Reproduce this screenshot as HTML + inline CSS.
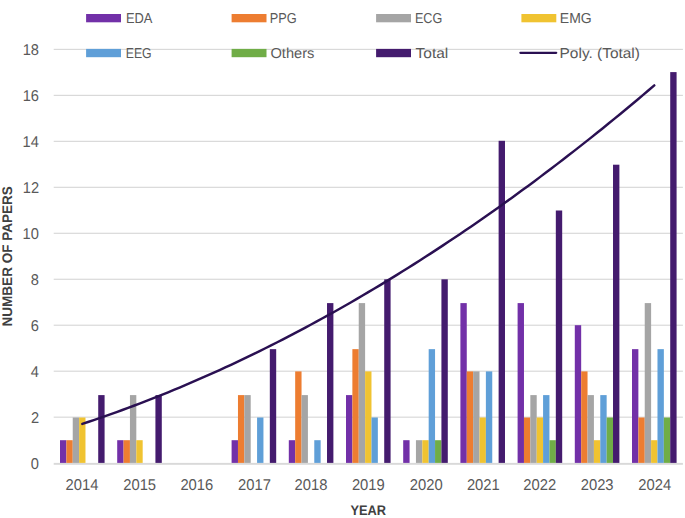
<!DOCTYPE html><html><head><meta charset="utf-8"><style>html,body{margin:0;padding:0;background:#fff;width:685px;height:518px;overflow:hidden}svg{display:block}text{font-family:"Liberation Sans",sans-serif;text-rendering:geometricPrecision}</style></head><body>
<svg width="685" height="518" viewBox="0 0 685 518">
<rect width="685" height="518" fill="#fff"/>
<rect x="53.70" y="416.58" width="629.20" height="1.2" fill="#D9D9D9"/>
<rect x="53.70" y="370.61" width="629.20" height="1.2" fill="#D9D9D9"/>
<rect x="53.70" y="324.64" width="629.20" height="1.2" fill="#D9D9D9"/>
<rect x="53.70" y="278.67" width="629.20" height="1.2" fill="#D9D9D9"/>
<rect x="53.70" y="232.70" width="629.20" height="1.2" fill="#D9D9D9"/>
<rect x="53.70" y="186.73" width="629.20" height="1.2" fill="#D9D9D9"/>
<rect x="53.70" y="140.76" width="629.20" height="1.2" fill="#D9D9D9"/>
<rect x="53.70" y="94.79" width="629.20" height="1.2" fill="#D9D9D9"/>
<rect x="53.70" y="48.82" width="629.20" height="1.2" fill="#D9D9D9"/>
<rect x="53.70" y="462.9" width="629.20" height="1.9" fill="#D9D9D9"/>
<rect x="86.1" y="14.0" width="34.9" height="8.3" fill="#7230A8"/>
<text x="125.99" y="23.20" font-size="14.4" fill="#595959" textLength="26.45" lengthAdjust="spacingAndGlyphs">EDA</text>
<rect x="231.6" y="14.0" width="34.9" height="8.3" fill="#ED7D31"/>
<text x="269.70" y="23.20" font-size="14.4" fill="#595959" textLength="27.01" lengthAdjust="spacingAndGlyphs">PPG</text>
<rect x="376.1" y="14.0" width="34.9" height="8.3" fill="#A5A5A5"/>
<text x="414.91" y="23.20" font-size="14.4" fill="#595959" textLength="27.28" lengthAdjust="spacingAndGlyphs">ECG</text>
<rect x="521.4" y="14.0" width="34.9" height="8.3" fill="#F0C331"/>
<text x="559.80" y="23.20" font-size="14.4" fill="#595959" textLength="31.89" lengthAdjust="spacingAndGlyphs">EMG</text>
<rect x="86.1" y="48.9" width="34.9" height="8.3" fill="#5F9FD8"/>
<text x="125.74" y="58.10" font-size="14.4" fill="#595959" textLength="25.93" lengthAdjust="spacingAndGlyphs">EEG</text>
<rect x="231.6" y="48.9" width="34.9" height="8.3" fill="#70AD47"/>
<text x="270.47" y="58.10" font-size="14.4" fill="#595959" textLength="43.95" lengthAdjust="spacingAndGlyphs">Others</text>
<rect x="376.1" y="48.9" width="34.9" height="8.3" fill="#441B6E"/>
<text x="415.57" y="58.10" font-size="14.4" fill="#595959" textLength="32.74" lengthAdjust="spacingAndGlyphs">Total</text>
<line x1="520.4" x2="556.2" y1="52.8" y2="52.8" stroke="#2A1052" stroke-width="2.3" stroke-linecap="round"/>
<text x="559.59" y="58.10" font-size="14.4" fill="#595959" textLength="80.36" lengthAdjust="spacingAndGlyphs">Poly. (Total)</text>
<rect x="60.00" y="440.20" width="6.37" height="22.70" fill="#7230A8"/>
<rect x="66.37" y="440.20" width="6.37" height="22.70" fill="#ED7D31"/>
<rect x="72.74" y="417.50" width="6.37" height="45.40" fill="#A5A5A5"/>
<rect x="79.11" y="417.50" width="6.37" height="45.40" fill="#F0C331"/>
<rect x="98.22" y="395.10" width="6.37" height="67.80" fill="#441B6E"/>
<rect x="117.20" y="440.20" width="6.37" height="22.70" fill="#7230A8"/>
<rect x="123.57" y="440.20" width="6.37" height="22.70" fill="#ED7D31"/>
<rect x="129.94" y="395.10" width="6.37" height="67.80" fill="#A5A5A5"/>
<rect x="136.31" y="440.20" width="6.37" height="22.70" fill="#F0C331"/>
<rect x="155.42" y="395.10" width="6.37" height="67.80" fill="#441B6E"/>
<rect x="231.60" y="440.20" width="6.37" height="22.70" fill="#7230A8"/>
<rect x="237.97" y="395.10" width="6.37" height="67.80" fill="#ED7D31"/>
<rect x="244.34" y="395.10" width="6.37" height="67.80" fill="#A5A5A5"/>
<rect x="257.08" y="417.50" width="6.37" height="45.40" fill="#5F9FD8"/>
<rect x="269.82" y="349.15" width="6.37" height="113.75" fill="#441B6E"/>
<rect x="288.80" y="440.20" width="6.37" height="22.70" fill="#7230A8"/>
<rect x="295.17" y="371.40" width="6.37" height="91.50" fill="#ED7D31"/>
<rect x="301.54" y="395.10" width="6.37" height="67.80" fill="#A5A5A5"/>
<rect x="314.28" y="440.20" width="6.37" height="22.70" fill="#5F9FD8"/>
<rect x="327.02" y="303.10" width="6.37" height="159.80" fill="#441B6E"/>
<rect x="346.00" y="395.10" width="6.37" height="67.80" fill="#7230A8"/>
<rect x="352.37" y="349.15" width="6.37" height="113.75" fill="#ED7D31"/>
<rect x="358.74" y="303.10" width="6.37" height="159.80" fill="#A5A5A5"/>
<rect x="365.11" y="371.40" width="6.37" height="91.50" fill="#F0C331"/>
<rect x="371.48" y="417.50" width="6.37" height="45.40" fill="#5F9FD8"/>
<rect x="384.22" y="279.30" width="6.37" height="183.60" fill="#441B6E"/>
<rect x="403.20" y="440.20" width="6.37" height="22.70" fill="#7230A8"/>
<rect x="415.94" y="440.20" width="6.37" height="22.70" fill="#A5A5A5"/>
<rect x="422.31" y="440.20" width="6.37" height="22.70" fill="#F0C331"/>
<rect x="428.68" y="349.15" width="6.37" height="113.75" fill="#5F9FD8"/>
<rect x="435.05" y="440.20" width="6.37" height="22.70" fill="#70AD47"/>
<rect x="441.42" y="279.30" width="6.37" height="183.60" fill="#441B6E"/>
<rect x="460.40" y="303.10" width="6.37" height="159.80" fill="#7230A8"/>
<rect x="466.77" y="371.40" width="6.37" height="91.50" fill="#ED7D31"/>
<rect x="473.14" y="371.40" width="6.37" height="91.50" fill="#A5A5A5"/>
<rect x="479.51" y="417.50" width="6.37" height="45.40" fill="#F0C331"/>
<rect x="485.88" y="371.40" width="6.37" height="91.50" fill="#5F9FD8"/>
<rect x="498.62" y="140.80" width="6.37" height="322.10" fill="#441B6E"/>
<rect x="517.60" y="303.10" width="6.37" height="159.80" fill="#7230A8"/>
<rect x="523.97" y="417.50" width="6.37" height="45.40" fill="#ED7D31"/>
<rect x="530.34" y="395.10" width="6.37" height="67.80" fill="#A5A5A5"/>
<rect x="536.71" y="417.50" width="6.37" height="45.40" fill="#F0C331"/>
<rect x="543.08" y="395.10" width="6.37" height="67.80" fill="#5F9FD8"/>
<rect x="549.45" y="440.20" width="6.37" height="22.70" fill="#70AD47"/>
<rect x="555.82" y="210.50" width="6.37" height="252.40" fill="#441B6E"/>
<rect x="574.80" y="325.20" width="6.37" height="137.70" fill="#7230A8"/>
<rect x="581.17" y="371.40" width="6.37" height="91.50" fill="#ED7D31"/>
<rect x="587.54" y="395.10" width="6.37" height="67.80" fill="#A5A5A5"/>
<rect x="593.91" y="440.20" width="6.37" height="22.70" fill="#F0C331"/>
<rect x="600.28" y="395.10" width="6.37" height="67.80" fill="#5F9FD8"/>
<rect x="606.65" y="417.50" width="6.37" height="45.40" fill="#70AD47"/>
<rect x="613.02" y="164.70" width="6.37" height="298.20" fill="#441B6E"/>
<rect x="632.00" y="349.15" width="6.37" height="113.75" fill="#7230A8"/>
<rect x="638.37" y="417.50" width="6.37" height="45.40" fill="#ED7D31"/>
<rect x="644.74" y="303.10" width="6.37" height="159.80" fill="#A5A5A5"/>
<rect x="651.11" y="440.20" width="6.37" height="22.70" fill="#F0C331"/>
<rect x="657.48" y="349.15" width="6.37" height="113.75" fill="#5F9FD8"/>
<rect x="663.85" y="417.50" width="6.37" height="45.40" fill="#70AD47"/>
<rect x="670.22" y="72.10" width="6.37" height="390.80" fill="#441B6E"/>
<polyline points="82.30,423.93 88.02,422.03 93.74,420.10 99.46,418.14 105.18,416.15 110.90,414.13 116.62,412.08 122.34,410.00 128.06,407.89 133.78,405.75 139.50,403.58 145.22,401.38 150.94,399.15 156.66,396.89 162.38,394.60 168.10,392.28 173.82,389.93 179.54,387.55 185.26,385.14 190.98,382.70 196.70,380.23 202.42,377.73 208.14,375.20 213.86,372.64 219.58,370.05 225.30,367.43 231.02,364.78 236.74,362.10 242.46,359.39 248.18,356.65 253.90,353.88 259.62,351.08 265.34,348.25 271.06,345.39 276.78,342.50 282.50,339.58 288.22,336.63 293.94,333.65 299.66,330.64 305.38,327.60 311.10,324.53 316.82,321.43 322.54,318.30 328.26,315.14 333.98,311.95 339.70,308.73 345.42,305.48 351.14,302.20 356.86,298.89 362.58,295.55 368.30,292.18 374.02,288.78 379.74,285.35 385.46,281.89 391.18,278.40 396.90,274.88 402.62,271.33 408.34,267.75 414.06,264.14 419.78,260.50 425.50,256.83 431.22,253.13 436.94,249.40 442.66,245.64 448.38,241.85 454.10,238.03 459.82,234.18 465.54,230.30 471.26,226.39 476.98,222.45 482.70,218.48 488.42,214.48 494.14,210.45 499.86,206.39 505.58,202.30 511.30,198.18 517.02,194.03 522.74,189.85 528.46,185.64 534.18,181.40 539.90,177.13 545.62,172.83 551.34,168.50 557.06,164.14 562.78,159.75 568.50,155.33 574.22,150.88 579.94,146.40 585.66,141.89 591.38,137.35 597.10,132.78 602.82,128.18 608.54,123.55 614.26,118.89 619.98,114.20 625.70,109.48 631.42,104.73 637.14,99.95 642.86,95.13 648.58,90.29 654.30,85.42" fill="none" stroke="#2A1052" stroke-width="2.45" stroke-linecap="round" stroke-linejoin="round"/>
<text x="30.75" y="468.70" font-size="15.6" fill="#595959" textLength="8.16" lengthAdjust="spacingAndGlyphs">0</text>
<text x="30.96" y="422.73" font-size="15.6" fill="#595959" textLength="8.16" lengthAdjust="spacingAndGlyphs">2</text>
<text x="30.65" y="376.76" font-size="15.6" fill="#595959" textLength="8.16" lengthAdjust="spacingAndGlyphs">4</text>
<text x="30.86" y="330.79" font-size="15.6" fill="#595959" textLength="8.16" lengthAdjust="spacingAndGlyphs">6</text>
<text x="30.86" y="284.82" font-size="15.6" fill="#595959" textLength="8.16" lengthAdjust="spacingAndGlyphs">8</text>
<text x="22.60" y="238.85" font-size="15.6" fill="#595959" textLength="16.31" lengthAdjust="spacingAndGlyphs">10</text>
<text x="22.81" y="192.88" font-size="15.6" fill="#595959" textLength="16.31" lengthAdjust="spacingAndGlyphs">12</text>
<text x="22.49" y="146.91" font-size="15.6" fill="#595959" textLength="16.31" lengthAdjust="spacingAndGlyphs">14</text>
<text x="22.70" y="100.94" font-size="15.6" fill="#595959" textLength="16.31" lengthAdjust="spacingAndGlyphs">16</text>
<text x="22.70" y="54.97" font-size="15.6" fill="#595959" textLength="16.31" lengthAdjust="spacingAndGlyphs">18</text>
<text x="65.53" y="489.9" font-size="15.6" fill="#595959" textLength="32.90" lengthAdjust="spacingAndGlyphs">2014</text>
<text x="123.19" y="489.9" font-size="15.6" fill="#595959" textLength="32.90" lengthAdjust="spacingAndGlyphs">2015</text>
<text x="180.39" y="489.9" font-size="15.6" fill="#595959" textLength="32.90" lengthAdjust="spacingAndGlyphs">2016</text>
<text x="238.04" y="489.9" font-size="15.6" fill="#595959" textLength="32.90" lengthAdjust="spacingAndGlyphs">2017</text>
<text x="294.49" y="489.9" font-size="15.6" fill="#595959" textLength="32.90" lengthAdjust="spacingAndGlyphs">2018</text>
<text x="351.89" y="489.9" font-size="15.6" fill="#595959" textLength="32.90" lengthAdjust="spacingAndGlyphs">2019</text>
<text x="409.74" y="489.9" font-size="15.6" fill="#595959" textLength="32.90" lengthAdjust="spacingAndGlyphs">2020</text>
<text x="466.89" y="489.9" font-size="15.6" fill="#595959" textLength="32.90" lengthAdjust="spacingAndGlyphs">2021</text>
<text x="523.24" y="489.9" font-size="15.6" fill="#595959" textLength="32.90" lengthAdjust="spacingAndGlyphs">2022</text>
<text x="580.69" y="489.9" font-size="15.6" fill="#595959" textLength="32.90" lengthAdjust="spacingAndGlyphs">2023</text>
<text x="638.28" y="489.9" font-size="15.6" fill="#595959" textLength="32.90" lengthAdjust="spacingAndGlyphs">2024</text>
<text x="350.52" y="514.90" font-size="13.9" font-weight="bold" fill="#404040" textLength="35.58" lengthAdjust="spacingAndGlyphs">YEAR</text>
<text transform="translate(11.7,326.47) rotate(-90)" x="0" y="0" font-size="13.9" font-weight="bold" fill="#404040" textLength="140.29" lengthAdjust="spacingAndGlyphs">NUMBER OF PAPERS</text>
</svg></body></html>
